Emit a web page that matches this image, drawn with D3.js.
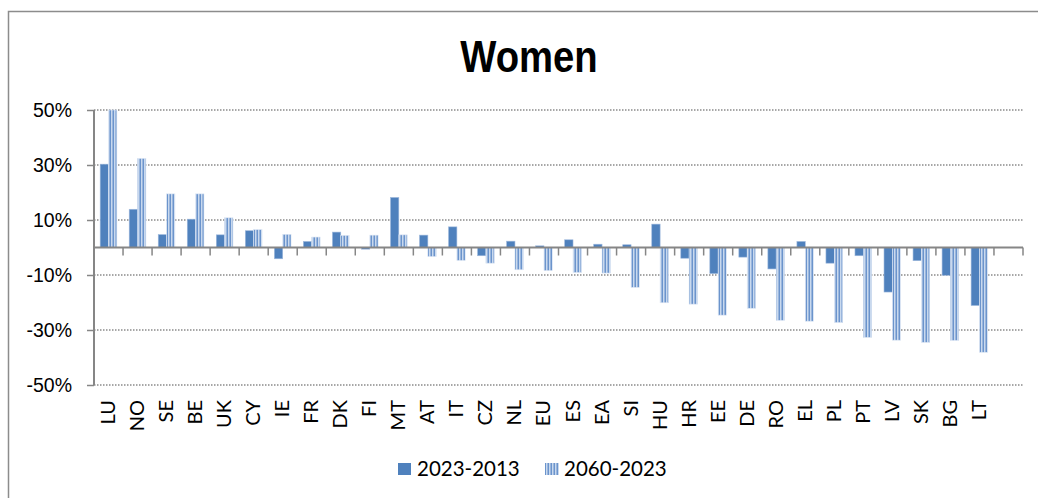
<!DOCTYPE html>
<html>
<head>
<meta charset="utf-8">
<script src="https://cdn.jsdelivr.net/npm/d3@7"></script>
<style>
  html, body { margin: 0; padding: 0; background: #fff; }
  svg { display: block; }
</style>
</head>
<body>
<svg id="chart" width="1038" height="498"></svg>
<script>
const title = "Women";
const categories = ["LU","NO","SE","BE","UK","CY","IE","FR","DK","FI","MT","AT","IT","CZ","NL","EU","ES","EA","SI","HU","HR","EE","DE","RO","EL","PL","PT","LV","SK","BG","LT"];
const seriesNames = ["2023-2013", "2060-2023"];
const values2023_2013 = [30.3, 13.9, 4.7, 10.3, 4.6, 6.1, -4.1, 2.2, 5.6, -0.6, 18.2, 4.5, 7.5, -3.0, 2.3, 0.6, 2.8, 1.2, 1.0, 8.5, -3.9, -9.5, -3.5, -7.8, 2.2, -5.7, -3.0, -16.2, -4.8, -10.1, -21.1];
const values2060_2023 = [50, 32.4, 19.5, 19.5, 10.8, 6.5, 4.8, 3.8, 4.4, 4.5, 4.6, -3.3, -4.7, -5.7, -8.1, -8.4, -9.1, -9.3, -14.5, -20.1, -20.6, -24.6, -22.1, -26.5, -26.8, -27.3, -32.7, -33.7, -34.5, -33.8, -38.1];
const yTicks = [-50, -30, -10, 10, 30, 50];

(function () {
const svg = d3.select("#chart");
const defs = svg.append("defs");
const pat = defs.append("pattern").attr("id", "stripes")
  .attr("patternUnits", "userSpaceOnUse").attr("width", 3).attr("height", 10);
pat.append("rect").attr("width", 3).attr("height", 10).attr("fill", "#c9d9ee");
pat.append("rect").attr("x", 1.5).attr("width", 1.5).attr("height", 10).attr("fill", "#6b94cc");

// outer border
svg.append("rect").attr("x", 8.5).attr("y", 11.5).attr("width", 1100).attr("height", 600)
  .attr("fill", "none").attr("stroke", "#8c8c8c").attr("stroke-width", 1.5);

svg.append("text").attr("transform", "translate(529,72) scale(0.85,1)").attr("text-anchor", "middle")
  .style("font-family", "'Liberation Sans', Arial, sans-serif")
  .style("font-weight", "bold").style("font-size", "45px").attr("fill", "#000").text(title);

const pLeft = 94, pRight = 1023, pTop = 110, pBottom = 385;
const slots = categories.concat([""]);
const x = d3.scaleBand().domain(slots).range([pLeft, pRight]).paddingInner(0).paddingOuter(0);
const x1 = d3.scaleBand().domain(seriesNames).range([0, x.bandwidth()]).paddingInner(0).paddingOuter(0.74);
const y = d3.scaleLinear().domain([-50, 50]).range([pBottom, pTop]).clamp(true);

// gridlines
svg.append("g").selectAll("line").data(yTicks).join("line")
  .attr("x1", pLeft).attr("x2", pRight).attr("y1", d => y(d)).attr("y2", d => y(d))
  .attr("stroke", "#8a8a8a").attr("stroke-width", 1.3).attr("stroke-dasharray", "1.5,1.5");

// bars
const data = categories.map((c, i) => ({ c, v: [values2023_2013[i], values2060_2023[i]] }));
const g = svg.append("g");
data.forEach(d => {
  d.v.forEach((v, j) => {
    const s = seriesNames[j];
    g.append("rect")
      .attr("x", x(d.c) + x1(s))
      .attr("width", x1.bandwidth())
      .attr("y", Math.min(y(v), y(0)))
      .attr("height", Math.abs(y(v) - y(0)))
      .attr("fill", j === 0 ? "#4f81bd" : "url(#stripes)")
      .attr("stroke", j === 0 ? "#9fb9dd" : "#dbe5f3").attr("stroke-width", 0.6);
  });
});

// y axis
const yAxis = d3.axisLeft(y).tickValues(yTicks).tickSize(7).tickPadding(15).tickFormat(d => d + "%");
const ya = svg.append("g").attr("transform", `translate(${pLeft},0)`).call(yAxis);
ya.select(".domain").attr("stroke", "#868686").attr("stroke-width", 2).attr("d", `M0,${pTop}V${pBottom}`);
ya.selectAll(".tick line").attr("stroke", "#868686").attr("stroke-width", 1.5);
ya.selectAll(".tick text").attr("fill", "#000")
  .style("font-family", "'Liberation Sans', Arial, sans-serif").style("font-size", "19.5px");

// zero line with ticks at slot boundaries
const za = svg.append("g").attr("transform", `translate(0,${y(0)})`);
za.append("line").attr("x1", pLeft).attr("x2", pRight).attr("stroke", "#868686").attr("stroke-width", 2.2);
za.selectAll(".tk").data(slots.map(s => x(s)).concat([pRight]).slice(1)).join("line")
  .attr("x1", d => d).attr("x2", d => d).attr("y1", 0).attr("y2", 8)
  .attr("stroke", "#868686").attr("stroke-width", 1.5);

// category labels
svg.append("g").selectAll("text").data(categories).join("text")
  .attr("transform", c => `translate(${x(c) + x.bandwidth() / 2 + 6.5},400) rotate(-90)`)
  .attr("text-anchor", "end")
  .style("font-family", "Lato, 'Open Sans', sans-serif").style("font-size", "20px")
  .attr("fill", "#000").text(c => c);

// legend
const lg = svg.append("g");
lg.append("rect").attr("x", 398).attr("y", 463).attr("width", 13).attr("height", 12).attr("fill", "#4f81bd");
lg.append("text").attr("x", 417).attr("y", 476)
  .style("font-family", "Lato, 'Open Sans', sans-serif").style("font-size", "20.5px").attr("fill", "#000").text(seriesNames[0]);
lg.append("rect").attr("x", 545).attr("y", 463).attr("width", 14).attr("height", 12).attr("fill", "url(#stripes)");
lg.append("text").attr("x", 564).attr("y", 476)
  .style("font-family", "Lato, 'Open Sans', sans-serif").style("font-size", "20.5px").attr("fill", "#000").text(seriesNames[1]);
})();
</script>
</body>
</html>
